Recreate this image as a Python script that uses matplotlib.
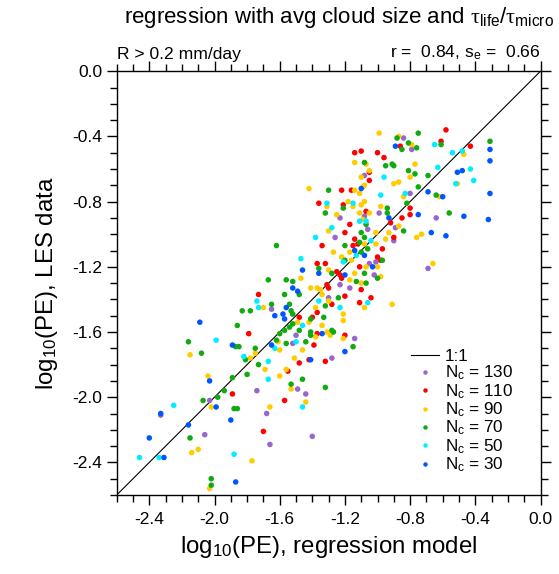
import matplotlib
matplotlib.use("Agg")
import matplotlib.pyplot as plt
from matplotlib.lines import Line2D

plt.rcParams['font.family'] = ['Liberation Sans', 'DejaVu Sans']
plt.rcParams['mathtext.fontset'] = 'custom'
plt.rcParams['mathtext.rm'] = 'Liberation Sans'
plt.rcParams['mathtext.it'] = 'Liberation Serif'
plt.rcParams['mathtext.sf'] = 'Liberation Sans'
plt.rcParams['mathtext.bf'] = 'Liberation Sans:bold'

# ---------------- data (log10 PE): regression model (x) vs LES (y) ----------------
nc130_x = [-0.84, -0.79, -1.08, -0.80, -1.23, -1.08, -0.99, -1.06, -0.89, -0.90, -1.26, -1.01,
           -1.05, -1.02, -1.23, -1.17, -1.30, -0.64, -0.69, -1.74, -1.65, -1.50, -1.14, -1.52,
           -1.28, -1.49, -1.44, -2.03, -2.33, -2.06, -1.68, -1.66, -1.40]
nc130_y = [-0.41, -0.48, -0.64, -0.75, -0.90, -0.89, -0.87, -0.97, -0.96, -1.04, -1.02, -1.17,
           -1.18, -1.25, -1.31, -1.33, -1.39, -0.90, -1.21, -1.96, -1.46, -1.62, -1.64, -1.67,
           -1.76, -1.95, -1.98, -2.02, -2.11, -2.23, -2.10, -2.29, -2.24]

nc110_x = [-0.86, -1.14, -1.10, -1.00, -0.96, -1.05, -1.05, -1.22, -1.16, -1.36, -1.21, -0.58,
           -0.61, -0.43, -1.07, -0.92, -1.17, -1.20, -0.90, -1.14, -1.12, -1.15, -1.34, -0.97,
           -1.00, -0.98, -1.37, -1.32, -1.11, -1.25, -1.23, -1.22, -1.31, -1.30, -1.10, -1.20,
           -1.04, -1.73, -0.80, -0.80, -0.85, -1.79, -1.89, -1.28, -1.11, -1.48, -1.40, -1.37,
           -1.37, -1.20, -1.39, -1.48, -1.42, -1.32, -1.55, -1.57, -1.70]
nc110_y = [-0.46, -0.50, -0.49, -0.50, -0.53, -0.62, -0.67, -0.73, -0.73, -0.81, -0.82, -0.36,
           -0.43, -0.46, -0.86, -0.93, -0.94, -0.99, -1.02, -1.03, -1.06, -1.07, -1.07, -1.09,
           -1.14, -1.16, -1.18, -1.18, -1.20, -1.23, -1.25, -1.27, -1.31, -1.33, -1.34, -1.38,
           -1.39, -1.37, -0.84, -0.88, -0.90, -1.61, -1.98, -1.43, -1.42, -1.51, -1.51, -1.48,
           -1.61, -1.62, -1.68, -1.79, -1.77, -1.78, -1.84, -2.02, -2.21]

nc90_x = [-0.99, -0.87, -1.14, -1.07, -1.05, -1.10, -0.90, -0.87, -1.08, -1.09, -1.42, -1.14,
          -1.11, -1.08, -1.18, -1.10, -0.79, -0.47, -0.77, -0.80, -0.51, -0.84, -0.62, -1.31,
          -1.15, -0.98, -1.25, -1.11, -1.05, -1.09, -0.87, -1.30, -1.01, -0.93, -0.95, -1.08,
          -1.01, -1.17, -1.27, -1.22, -1.16, -1.07, -1.00, -1.30, -1.14, -0.98, -1.17, -1.10,
          -1.47, -1.41, -1.37, -1.35, -1.34, -0.76, -0.73, -0.66, -2.15, -1.75, -1.78, -2.04,
          -1.70, -1.38, -1.30, -1.08, -0.91, -1.21, -1.21, -1.49, -1.42, -1.34, -1.31, -1.38,
          -1.29, -1.21, -1.61, -1.60, -1.46, -1.51, -1.69, -1.56, -1.60, -1.53, -2.02, -2.10,
          -2.14, -1.77, -2.03, -1.66, -1.44]
nc90_y = [-0.38, -0.40, -0.56, -0.57, -0.61, -0.65, -0.69, -0.68, -0.70, -0.71, -0.72, -0.73,
          -0.75, -0.80, -0.80, -0.82, -0.45, -0.51, -0.57, -0.65, -0.69, -0.77, -0.77, -0.83,
          -0.83, -0.83, -0.88, -0.87, -0.87, -0.91, -0.95, -0.98, -0.99, -0.99, -1.03, -1.06,
          -1.06, -1.11, -1.11, -1.14, -1.16, -1.20, -1.20, -1.22, -1.24, -1.26, -1.28, -1.30,
          -1.27, -1.33, -1.33, -1.34, -1.37, -1.02, -1.00, -1.18, -1.74, -1.73, -1.76, -1.87,
          -1.45, -1.45, -1.41, -1.45, -1.43, -1.49, -1.53, -1.54, -1.54, -1.56, -1.60, -1.63,
          -1.62, -1.64, -1.66, -1.71, -1.71, -1.76, -1.83, -1.83, -1.87, -1.95, -2.06, -2.32,
          -2.34, -2.39, -2.56, -2.06, -2.03]

nc70_x = [-0.88, -1.08, -0.95, -0.91, -0.90, -1.30, -0.75, -0.85, -0.81, -0.76, -0.61, -0.31,
          -0.81, -0.77, -0.69, -0.75, -0.64, -0.82, -1.21, -0.94, -1.32, -0.94, -1.07, -1.10,
          -1.08, -1.11, -1.20, -1.06, -1.10, -1.62, -0.97, -1.20, -1.36, -1.28, -1.08, -1.00,
          -1.13, -1.07, -1.67, -1.56, -1.52, -1.48, -1.57, -1.24, -0.56, -0.84, -1.83, -1.78,
          -1.86, -2.16, -1.87, -1.85, -1.75, -2.08, -1.81, -1.73, -1.89, -1.80, -1.94, -1.65,
          -1.54, -1.32, -1.53, -1.52, -1.33, -1.41, -1.52, -1.54, -1.48, -1.57, -1.60, -1.41,
          -1.41, -1.28, -1.27, -1.62, -1.56, -1.44, -1.15, -1.46, -1.53, -1.32, -2.07, -1.98,
          -1.88, -1.86, -2.15, -2.02, -2.02]
nc70_y = [-0.41, -0.56, -0.58, -0.57, -0.58, -0.73, -0.38, -0.48, -0.44, -0.47, -0.45, -0.43,
          -0.61, -0.63, -0.64, -0.71, -0.76, -0.81, -0.84, -0.84, -0.87, -0.87, -0.94, -0.99,
          -1.02, -1.05, -1.07, -1.09, -1.11, -1.07, -1.16, -1.16, -1.21, -1.24, -1.24, -1.27,
          -1.29, -1.30, -1.28, -1.28, -1.29, -1.37, -1.37, -1.39, -0.87, -0.98, -1.47, -1.47,
          -1.56, -1.66, -1.69, -1.69, -1.70, -1.73, -1.77, -1.80, -1.88, -1.86, -1.96, -1.43,
          -1.43, -1.44, -1.47, -1.49, -1.51, -1.52, -1.55, -1.57, -1.59, -1.59, -1.61, -1.60,
          -1.62, -1.59, -1.60, -1.65, -1.67, -1.66, -1.69, -1.89, -1.92, -1.94, -2.02, -2.00,
          -2.07, -2.07, -2.25, -2.50, -2.54]

nc50_x = [-0.96, -0.98, -1.31, -1.15, -0.65, -0.54, -0.48, -0.63, -0.43, -0.52, -0.41, -0.83,
          -1.11, -1.07, -1.28, -1.38, -1.04, -1.47, -1.13, -1.21, -1.74, -1.73, -1.99, -1.82,
          -1.36, -1.23, -1.06, -1.46, -1.50, -1.63, -1.67, -1.67, -2.25, -1.88, -2.46, -2.34,
          -1.46]
nc50_y = [-0.65, -0.76, -0.81, -0.81, -0.45, -0.50, -0.49, -0.59, -0.60, -0.69, -0.67, -0.75,
          -0.92, -0.92, -0.96, -1.02, -1.04, -1.15, -1.13, -1.17, -1.41, -1.45, -1.65, -1.75,
          -1.41, -1.45, -1.42, -1.56, -1.66, -1.70, -1.78, -1.89, -2.05, -2.35, -2.37, -2.37,
          -2.06]

nc30_x = [-0.89, -1.10, -0.31, -0.31, -0.48, -0.51, -0.69, -0.60, -0.31, -0.93, -1.14, -1.08,
          -1.46, -1.03, -1.36, -1.20, -1.52, -1.49, -0.75, -0.47, -0.32, -0.67, -0.58, -2.09,
          -1.89, -2.03, -1.56, -1.58, -1.63, -1.57, -1.34, -1.65, -1.20, -1.41, -1.99, -2.33,
          -1.90, -2.16, -2.40, -2.31, -1.87]
nc30_y = [-0.46, -0.72, -0.48, -0.55, -0.61, -0.62, -0.74, -0.77, -0.75, -0.90, -1.10, -1.13,
          -1.22, -1.20, -1.24, -1.25, -1.33, -1.35, -0.88, -0.89, -0.91, -0.99, -1.01, -1.54,
          -1.68, -1.90, -1.45, -1.49, -1.50, -1.52, -1.61, -1.68, -1.72, -1.77, -2.06, -2.10,
          -2.14, -2.17, -2.25, -2.37, -2.52]

series_labels = ["130", "110", "90", "70", "50", "30"]
series_colors = ["#9966cc", "#ff0000", "#ffcc00", "#11aa11", "#00eeff", "#0055ff"]
series_x = [nc130_x, nc110_x, nc90_x, nc70_x, nc50_x, nc30_x]
series_y = [nc130_y, nc110_y, nc90_y, nc70_y, nc50_y, nc30_y]

axis_min, axis_max = -2.6, 0.0
major_ticks = [-2.4, -2.0, -1.6, -1.2, -0.8, -0.4, 0.0]
tick_labels = ["-2.4", "-2.0", "-1.6", "-1.2", "-0.8", "-0.4", "0.0"]

# ---------------- figure ----------------
W, H = 559, 574
fig = plt.figure(figsize=(W / 100, H / 100), dpi=100)
ax = fig.add_axes([116.7 / W, 1 - 495 / H, (540.5 - 116.7) / W, (495 - 71.2) / H])

ax.plot([axis_min, axis_max], [axis_min, axis_max], color="black", lw=0.8, zorder=1)

handles = [Line2D([0], [0], color="black", lw=0.8)]
labels = ["1:1"]
for lab, col, xs, ys in zip(series_labels, series_colors, series_x, series_y):
    ax.scatter(xs, ys, s=16, color=col, edgecolors="none", zorder=2)
    handles.append(Line2D([0], [0], marker="o", ls="none", markersize=3.2,
                          markerfacecolor=col, markeredgecolor="none"))
    labels.append(r"N$_{\rm c}$ = " + lab)

ax.set_xlim(axis_min, axis_max)
ax.set_ylim(axis_min, axis_max)
ax.set_xticks(major_ticks)
ax.set_xticklabels(tick_labels)
ax.set_yticks(major_ticks)
ax.set_yticklabels(tick_labels)
ax.set_xticks([-2.6 + 0.1 * i for i in range(27)], minor=True)
ax.set_yticks([-2.6 + 0.1 * i for i in range(27)], minor=True)
ax.tick_params(which="both", direction="out", top=True, right=True, width=1.0)
ax.tick_params(which="major", length=7.5, labelsize=12.5, pad=3)
ax.tick_params(which="minor", length=4.8)
ax.tick_params(axis="x", which="major", pad=5)
for sp in ax.spines.values():
    sp.set_linewidth(1.0)

ax.set_xlabel(r"log$_{10}$(PE), regression model", fontsize=17.3, labelpad=5)
ax.set_ylabel(r"log$_{10}$(PE), LES data", fontsize=17.3, labelpad=9)

fig.text(339 / W, 1 - 17 / H,
         r"regression with avg cloud size and $\mathit{\tau}_{\rm life}/\mathit{\tau}_{\rm micro}$",
         ha="center", va="center", fontsize=16)
ax.text(0.0, 1.022, "R > 0.2 mm/day", transform=ax.transAxes, ha="left", va="bottom",
        fontsize=12.6)
ax.text(1.0, 1.022, r"r =  0.84, s$_{\rm e}$ =  0.66", transform=ax.transAxes,
        ha="right", va="bottom", fontsize=12.6)

leg = ax.legend(handles, labels, loc="upper left", bbox_to_anchor=(0.695, 0.345),
                frameon=False, fontsize=12.3, handlelength=1.6, handletextpad=0.35,
                labelspacing=0.0, borderpad=0, borderaxespad=0)

fig.savefig("out.png", dpi=100)
